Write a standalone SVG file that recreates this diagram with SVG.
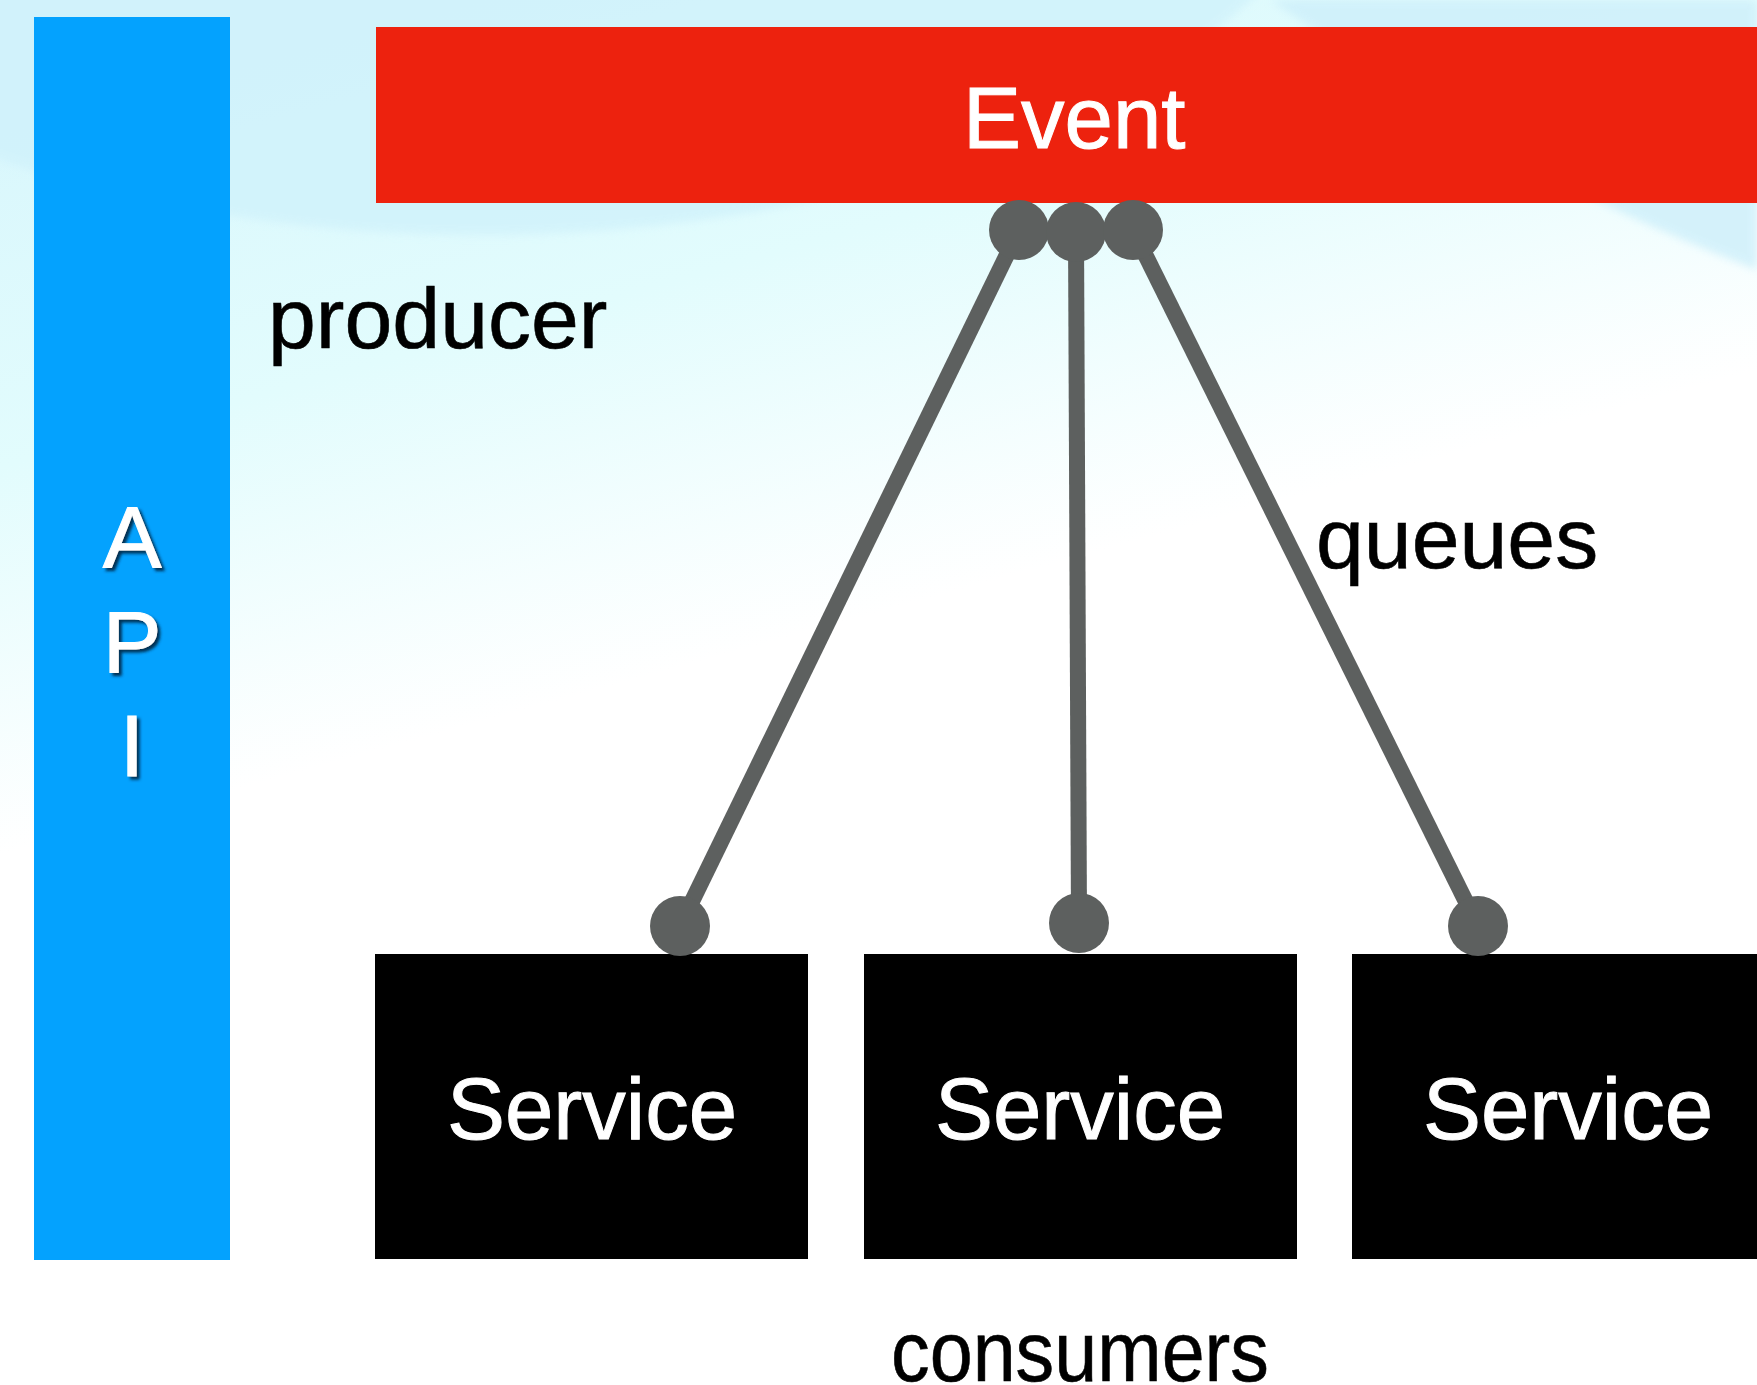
<svg xmlns="http://www.w3.org/2000/svg" width="1757" height="1385" viewBox="0 0 1757 1385">
  <style>
    .lbl { font-family: "Liberation Sans", Arial, Helvetica, sans-serif; font-size: 86px; fill: #000; stroke: #000; stroke-width: 0.6px; }
    .wt { font-family: "Liberation Sans", Arial, Helvetica, sans-serif; font-size: 87px; fill: #fff; stroke: #fff; stroke-width: 1px; }
    .api { font-family: "Liberation Sans", Arial, Helvetica, sans-serif; font-size: 88px; fill: #fff; stroke: #fff; stroke-width: 1px; text-anchor: middle; }
    .svc { fill: #000; }
    .conn { stroke: #5d605f; stroke-width: 16; fill: none; }
    .dot { fill: #5d605f; }
  </style>
  <defs>
    <linearGradient id="bg" x1="0" y1="0" x2="0.35" y2="1">
      <stop offset="0" stop-color="#d6f5fc"/>
      <stop offset="0.3" stop-color="#e2fcfd"/>
      <stop offset="0.55" stop-color="#ffffff"/>
      <stop offset="1" stop-color="#ffffff"/>
    </linearGradient>
    <filter id="shadow" x="-30%" y="-30%" width="160%" height="160%">
      <feDropShadow dx="3" dy="3" stdDeviation="1.5" flood-color="#002040" flood-opacity="0.9"/>
    </filter>
    <filter id="soft" x="-10%" y="-10%" width="120%" height="120%">
      <feGaussianBlur stdDeviation="4"/>
    </filter>
  </defs>

  <g id="background">
    <rect x="0" y="0" width="1757" height="1385" fill="url(#bg)"/>
    <ellipse cx="480" cy="-250" rx="900" ry="485" fill="#d0f2fb" opacity="0.8" filter="url(#soft)"/>
    <path d="M1270,0 L1757,0 L1757,270 Q1500,170 1330,40 Z" fill="#cdeffa" opacity="0.8" filter="url(#soft)"/>
  </g>

  <g id="api">
    <rect x="34" y="17" width="196" height="1243" fill="#04a2fe"/>
    <g filter="url(#shadow)">
      <text class="api" x="132" y="568">A</text>
      <text class="api" x="132" y="672">P</text>
      <text class="api" x="132" y="776">I</text>
    </g>
  </g>

  <g id="event">
    <rect x="376" y="27" width="1381" height="176" fill="#ed220e"/>
    <text class="wt" x="963" y="148">Event</text>
  </g>

  <g id="label-producer">
    <text class="lbl" x="268" y="348">producer</text>
  </g>
  <g id="label-queues">
    <text class="lbl" x="1316" y="568">queues</text>
  </g>
  <g id="label-consumers">
    <text class="lbl" x="891" y="1381" textLength="378" lengthAdjust="spacingAndGlyphs">consumers</text>
  </g>

  <g id="service1">
    <rect class="svc" x="375" y="954" width="433" height="305"/>
    <text class="wt" x="592" y="1139" text-anchor="middle">Service</text>
  </g>
  <g id="service2">
    <rect class="svc" x="864" y="954" width="433" height="305"/>
    <text class="wt" x="1080" y="1139" text-anchor="middle">Service</text>
  </g>
  <g id="service3">
    <rect class="svc" x="1352" y="954" width="433" height="305"/>
    <text class="wt" x="1568" y="1139" text-anchor="middle">Service</text>
  </g>

  <g id="connectors">
    <line class="conn" x1="1019" y1="230" x2="680" y2="926"/>
    <line class="conn" x1="1076" y1="232" x2="1079" y2="923"/>
    <line class="conn" x1="1133" y1="230" x2="1478" y2="926"/>
    <circle class="dot" cx="1019" cy="230" r="30"/>
    <circle class="dot" cx="1076" cy="232" r="30"/>
    <circle class="dot" cx="1133" cy="230" r="30"/>
    <circle class="dot" cx="680" cy="926" r="30"/>
    <circle class="dot" cx="1079" cy="923" r="30"/>
    <circle class="dot" cx="1478" cy="926" r="30"/>
  </g>
</svg>
